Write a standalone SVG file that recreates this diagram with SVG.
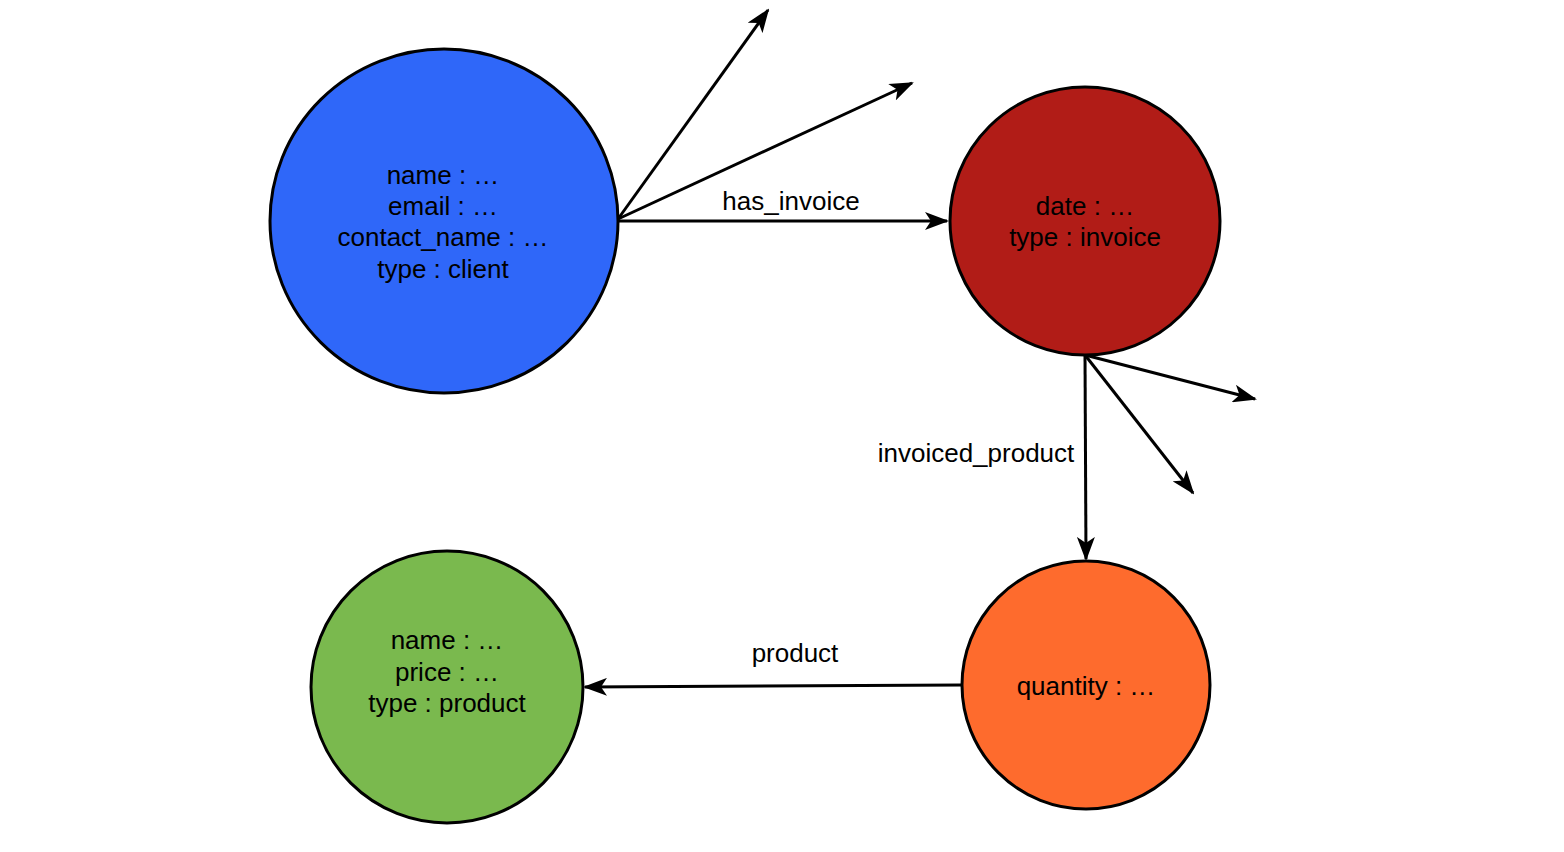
<svg xmlns="http://www.w3.org/2000/svg" width="1564" height="852" viewBox="0 0 1564 852">
<style>
.node{stroke:#000;stroke-width:3}
.t{font-family:"Liberation Sans",Arial,sans-serif;font-size:26px;fill:#000;text-anchor:middle}
.e{stroke:#000;stroke-width:3;fill:none;marker-end:url(#arr)}
</style>
<defs>
<marker id="arr" viewBox="0 0 24 18" refX="22" refY="9" markerWidth="24" markerHeight="18" markerUnits="userSpaceOnUse" orient="auto">
<path d="M0,0 L24,9 L0,18 L6,9 Z" fill="#000"/>
</marker>
</defs>
<rect width="1564" height="852" fill="#fff"/>
<g id="connectors">
<line class="e" x1="618" y1="221" x2="947" y2="221"/>
<line class="e" x1="618" y1="219" x2="768" y2="10"/>
<line class="e" x1="618" y1="219" x2="912" y2="83"/>
<line class="e" x1="1085" y1="355" x2="1086" y2="559"/>
<line class="e" x1="1085" y1="355" x2="1255" y2="399"/>
<line class="e" x1="1085" y1="355" x2="1193" y2="493"/>
<line class="e" x1="962" y1="685" x2="585" y2="687"/>
<text class="t" x="791" y="210">has_invoice</text>
<text class="t" x="976" y="462">invoiced_product</text>
<text class="t" x="795" y="662">product</text>
</g>
<g id="client">
<ellipse class="node" cx="444" cy="221" rx="174" ry="172" fill="#2f67f9"/>
<text class="t" x="443" y="184">name : …</text>
<text class="t" x="443" y="215">email : …</text>
<text class="t" x="443" y="246">contact_name : …</text>
<text class="t" x="443" y="278">type : client</text>
</g>
<g id="invoice">
<ellipse class="node" cx="1085" cy="221" rx="135" ry="134" fill="#b11c17"/>
<text class="t" x="1085" y="215">date : …</text>
<text class="t" x="1085" y="246">type : invoice</text>
</g>
<g id="line">
<circle class="node" cx="1086" cy="685" r="124" fill="#fe6b2d"/>
<text class="t" x="1086" y="695">quantity : …</text>
</g>
<g id="product">
<ellipse class="node" cx="447" cy="687" rx="136" ry="136" fill="#7ab94e"/>
<text class="t" x="447" y="649">name : …</text>
<text class="t" x="447" y="681">price : …</text>
<text class="t" x="447" y="712">type : product</text>
</g>
</svg>
